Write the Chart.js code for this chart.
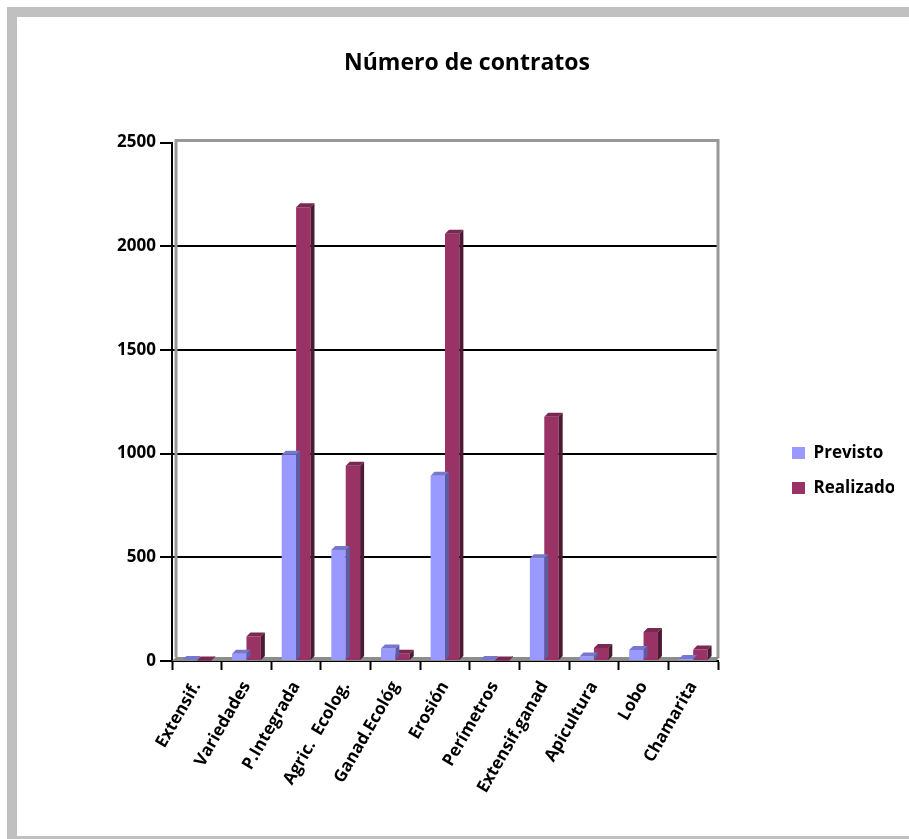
<!DOCTYPE html>
<html>
<head>
<meta charset="utf-8">
<script src="https://cdn.jsdelivr.net/npm/chart.js@4.4.1/dist/chart.umd.min.js"></script>
<style>
  body { margin: 0; background: #fff; overflow: hidden; }
  .frame {
    position: absolute; left: 7px; top: 7px;
    width: 1000px; height: 819px;
    border: 10px solid #c0c0c0;
  }
  #chart { position: absolute; left: 0; top: 0; }
</style>
</head>
<body>
<div class="frame"></div>
<canvas id="chart" width="909" height="839"></canvas>
<script>
// ==================================================
// DATA
// ==================================================
const categories = [
  "Extensif.", "Variedades", "P.Integrada", "Agric.  Ecolog.", "Ganad.Ecológ",
  "Erosión", "Perímetros", "Extensif.ganad", "Apicultura", "Lobo", "Chamarita",
];
const previsto = [5, 35, 995, 535, 60, 893, 5, 495, 22, 53, 10];
const realizado = [2, 118, 2188, 941, 35, 2060, 3, 1178, 63, 140, 55];
const seriesNames = ["Previsto", "Realizado"];
const yTicks = [0, 500, 1000, 1500, 2000, 2500];

// colours: front, top, side
const faceColors = [
  { front: "#9999ff", top: "#7777cc", side: "#5c5ca3" },
  { front: "#993366", top: "#7a2850", side: "#4d1a33" },
];

// ==================================================
// 3D LOOK (walls, floor, bar tops and sides)
// ==================================================
const depth = 4;

const wallPlugin = {
  id: "walls",
  beforeDatasetsDraw(chart) {
    const { ctx, chartArea: a } = chart;
    ctx.save();
    // floor
    ctx.fillStyle = "#8c8c8c";
    ctx.beginPath();
    ctx.moveTo(a.left, a.bottom);
    ctx.lineTo(a.left + depth, a.bottom - depth);
    ctx.lineTo(a.right + 2, a.bottom - depth);
    ctx.lineTo(a.right - 2, a.bottom);
    ctx.closePath();
    ctx.fill();
    // back wall edges
    ctx.strokeStyle = "#999999";
    ctx.lineWidth = 3;
    ctx.beginPath();
    ctx.moveTo(a.left + depth, a.bottom - depth);
    ctx.lineTo(a.left + depth, a.top - 2);
    ctx.lineTo(a.right, a.top - 2);
    ctx.lineTo(a.right, a.bottom - depth);
    ctx.stroke();
    ctx.restore();
  },
};

const barFacesPlugin = {
  id: "barFaces",
  afterDatasetDraw(chart, args) {
    const { ctx } = chart;
    const c = faceColors[args.index];
    ctx.save();
    args.meta.data.forEach((bar) => {
      const { x, y, base, width } = bar.getProps(["x", "y", "base", "width"], true);
      const l = x - width / 2;
      const r = x + width / 2;
      // top
      ctx.fillStyle = c.top;
      ctx.beginPath();
      ctx.moveTo(l, y);
      ctx.lineTo(l + depth, y - depth);
      ctx.lineTo(r + depth, y - depth);
      ctx.lineTo(r, y);
      ctx.closePath();
      ctx.fill();
      // side
      ctx.fillStyle = c.side;
      ctx.beginPath();
      ctx.moveTo(r, y);
      ctx.lineTo(r + depth, y - depth);
      ctx.lineTo(r + depth, base - depth);
      ctx.lineTo(r, base);
      ctx.closePath();
      ctx.fill();
    });
    ctx.restore();
  },
};

// ==================================================
// CHART
// ==================================================
Chart.defaults.font.family = "'Open Sans'";
Chart.defaults.color = "#000";

const ctx = document.getElementById("chart").getContext("2d");

const myChart = new Chart(ctx, {
  type: "bar",
  data: {
    labels: categories,
    datasets: [
      {
        label: seriesNames[0],
        data: previsto,
        backgroundColor: faceColors[0].front,
        categoryPercentage: 0.58,
        barPercentage: 1,
      },
      {
        label: seriesNames[1],
        data: realizado,
        backgroundColor: faceColors[1].front,
        categoryPercentage: 0.58,
        barPercentage: 1,
      },
    ],
  },
  options: {
    responsive: false,
    animation: false,
    devicePixelRatio: 1,
    layout: { padding: { left: 40, right: 15, top: 0, bottom: 42 } },
    plugins: {
      title: {
        display: true,
        text: "Número de contratos",
        font: { size: 23, weight: "bold" },
        color: "#000",
        padding: { top: 50, bottom: 65 },
      },
      legend: {
        position: "right",
        align: "center",
        maxWidth: 120,
        title: {
          display: true,
          text: " ",
          font: { size: 10 },
          padding: 66,
        },
        labels: {
          font: { size: 17, weight: "bold" },
          boxWidth: 13,
          boxHeight: 12,
          padding: 18,
        },
      },
      tooltip: { enabled: false },
    },
    scales: {
      x: {
        grid: {
          drawOnChartArea: false,
          drawTicks: true,
          tickLength: 9,
          tickColor: "#000",
          tickWidth: 2,
        },
        border: { color: "#000", width: 2 },
        ticks: {
          autoSkip: false,
          minRotation: 60,
          maxRotation: 60,
          padding: 8,
          font: { size: 17, weight: "bold" },
        },
        afterFit: (s) => {
          s.height = 136;
        },
      },
      y: {
        min: 0,
        max: 2500,
        afterBuildTicks: (s) => {
          s.ticks = yTicks.map((v) => ({ value: v }));
        },
        grid: {
          color: (c) => (c.tick && c.tick.value > 0 && c.tick.value < 2500 ? "#000" : "rgba(0,0,0,0)"),
          lineWidth: 2,
          tickLength: 12,
          tickColor: "#000",
          tickWidth: 2,
        },
        border: { color: "#000", width: 2 },
        ticks: {
          padding: 4,
          font: { size: 17, weight: "bold" },
          callback: (value) => String(value),
        },
        afterFit: (s) => {
          s.width = 132;
        },
      },
      // spacer between the plot and the legend
      gap: {
        type: "linear",
        position: "right",
        grid: { display: false, drawTicks: false },
        border: { display: false },
        ticks: { display: false },
        afterFit: (s) => {
          s.width = 56;
        },
      },
    },
  },
  plugins: [wallPlugin, barFacesPlugin],
});
</script>
</body>
</html>
